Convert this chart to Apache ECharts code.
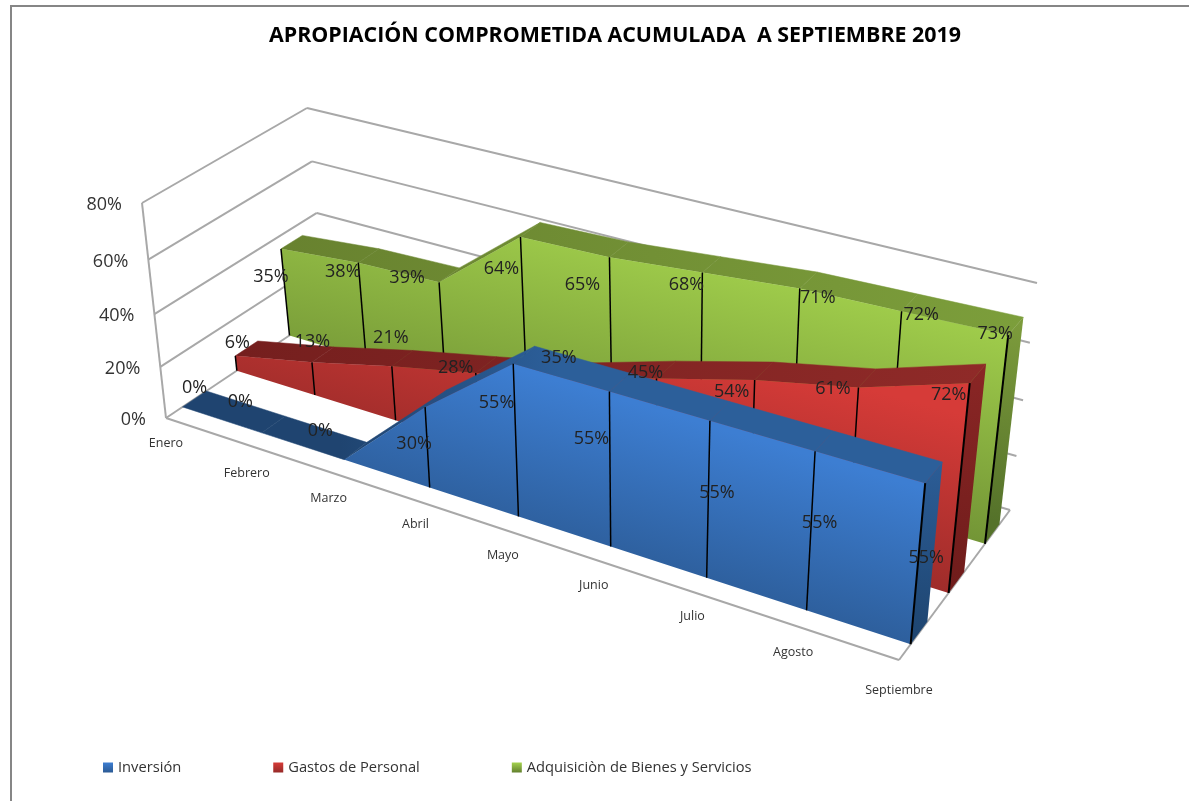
<!DOCTYPE html>
<html>
<head>
<meta charset="utf-8">
<script src="https://cdn.jsdelivr.net/npm/echarts@6/dist/echarts.min.js"></script>
<style>html,body{margin:0;padding:0;background:#fff}#container{width:1189px;height:801px}</style>
</head>
<body>
<div id="container"></div>
<script>
var categories = ['Enero','Febrero','Marzo','Abril','Mayo','Junio','Julio','Agosto','Septiembre'];
var inversion = [0,0,0,30,55,55,55,55,55];
var gastos = [6,13,21,28,35,45,54,61,72];
var adquisicion = [35,38,39,64,65,68,71,72,73];
var yTicks = [0,20,40,60,80];

// label nudges, the labels were moved by hand in the original chart
var inversionNudge = [[12,-19],[-21.5,-31],[-24,-28.5],[-11,36.5],[-16.7,39],[-18,47.5],[7,72.5],[4.5,71.5],[1,75]];
var gastosNudge = [[2,-13],[0.5,-20],[-1,-28],[-20,-5],[-5,-21.5],[-11,-5.3],[-23,12],[-25.5,1],[-21,11.5]];
var adquisicionNudge = [[-10,28],[-15.5,9],[-32,-4],[-19,32],[-27,27.6],[-16,12.5],[18,9],[19.5,3.7],[-13,-1]];
var catNudge = [[0,0],[1,3],[0,1],[1,-2],[-1,-2],[-3,-3],[-1,-4.5],[-1,-2],[0,0]];

var myChart = echarts.init(document.getElementById('container'));

// hidden flat grid, its axes give the scales. the result is then put in perspective
var box = {left:100, top:100, width:800, height:600};
var floorQuad = [[166,418],[899,660],[1010,510],[326,311]];
var roofQuad = [[142,203],[920,419],[1037,283],[307,108]];
var heightBow = 1.07;
var spreadBow = 0.015;

function squareToQuad(p){
	var dx1=p[1][0]-p[2][0], dx2=p[3][0]-p[2][0], sx=p[0][0]-p[1][0]+p[2][0]-p[3][0];
	var dy1=p[1][1]-p[2][1], dy2=p[3][1]-p[2][1], sy=p[0][1]-p[1][1]+p[2][1]-p[3][1];
	var den=dx1*dy2-dx2*dy1;
	var g=(sx*dy2-dx2*sy)/den, h=(dx1*sy-sx*dy1)/den;
	var a=p[1][0]-p[0][0]+g*p[1][0], b=p[3][0]-p[0][0]+h*p[3][0], c=p[0][0];
	var d=p[1][1]-p[0][1]+g*p[1][1], e=p[3][1]-p[0][1]+h*p[3][1], f=p[0][1];
	return function(u,w){
		var k=g*u+h*w+1;
		return [(a*u+b*w+c)/k,(d*u+e*w+f)/k];
	};
}
var floorMap = squareToQuad(floorQuad), roofMap = squareToQuad(roofQuad);

function project(api,cat,val,w){
	var c = api.coord([cat,val]);
	var u = (c[0]-box.left)/box.width, v = (box.top+box.height-c[1])/box.height;
	u = u+spreadBow*u*(1-u);
	var a = floorMap(u,w), b = roofMap(u,w);
	var t = v/(v+(1-v)*heightBow);
	return [a[0]+(b[0]-a[0])*t, a[1]+(b[1]-a[1])*t];
}
// gradient in page pixels, so neighbouring faces of one ribbon share it
function grad(x,y,x2,y2,c1,c2){
	return new echarts.graphic.LinearGradient(x,y,x2,y2,[{offset:0,color:c1},{offset:1,color:c2}],true);
}
function iconGrad(c1,c2){
	return new echarts.graphic.LinearGradient(0,0,0,1,[{offset:0,color:c1},{offset:1,color:c2}]);
}

var ribbons = [
	{name:'Adquisiciòn de Bienes y Servicios', values:adquisicion, nudge:adquisicionNudge, w0:0.755, w1:0.895,
		front:grad(1000,308,927,613,'#a4d24d','#62802e'), top:grad(285,0,1020,0,'#68822f','#7c9e3b'), side:grad(0,320,0,520,'#7d9c3c','#55722a'), icon:iconGrad('#a4d24d','#62802e'), z:3},
	{name:'Gastos de Personal', values:gastos, nudge:gastosNudge, w0:0.42, w1:0.56,
		front:grad(873,390,820,587,'#d63b38','#962a28'), top:grad(240,0,980,0,'#751f1e','#8f2a28'), side:grad(0,365,0,590,'#8a2625','#6f1c1b'), icon:iconGrad('#d63b38','#962a28'), z:4},
	{name:'Inversión', values:inversion, nudge:inversionNudge, w0:0.095, w1:0.235,
		front:grad(520,370,470,540,'#3d7ed2','#2b5a94'), top:grad(340,0,560,0,'#1f4470','#2c5f9a'), side:grad(0,460,0,640,'#2c5d97','#1e4570'), icon:iconGrad('#3d7ed2','#2b5a94'), z:5}
];

function ribbonItem(r){
	return function(params,api){
		var i = params.dataIndex, last = r.values.length-1, kids = [];
		if(i<last){
			kids.push({type:'polygon', z2:1, shape:{points:[
				project(api,i,r.values[i],r.w0), project(api,i+1,r.values[i+1],r.w0),
				project(api,i+1,r.values[i+1],r.w1), project(api,i,r.values[i],r.w1)
			]}, style:{fill:r.top, stroke:r.top, lineWidth:0.5}});
		}
		if(i==last){
			var pts = [];
			for(var n=0;n<=last;n++) pts.push(project(api,n,r.values[n],r.w0));
			pts.push(project(api,last,0,r.w0));
			pts.push(project(api,0,0,r.w0));
			kids.push({type:'polygon', z2:2, shape:{points:pts}, style:{fill:r.front}});
			kids.push({type:'polygon', z2:1, shape:{points:[
				project(api,last,r.values[last],r.w0), project(api,last,r.values[last],r.w1),
				project(api,last,0,r.w1), project(api,last,0,r.w0)
			]}, style:{fill:r.side}});
		}
		if(r.values[i]>0){
			var p0 = project(api,i,0,r.w0), p1 = project(api,i,r.values[i],r.w0);
			kids.push({type:'line', z2:3, shape:{x1:p0[0],y1:p0[1],x2:p1[0],y2:p1[1]}, style:{stroke:'#000',lineWidth:i==last?2:1.5}});
		}
		return {type:'group', children:kids};
	};
}

var wallColor = '#a8a8a8';
function seg(a,b){
	return {type:'line', shape:{x1:a[0],y1:a[1],x2:b[0],y2:b[1]}, style:{stroke:wallColor,lineWidth:2}};
}
function wallItem(params,api){
	var t = yTicks[params.dataIndex], kids = [];
	var lastCat = categories.length-1;
	var a = project(api,0,t,0), b = project(api,0,t,1), c = project(api,lastCat,t,1);
	kids.push(seg(a,b));
	kids.push(seg(b,c));
	if(params.dataIndex==0){
		kids.push(seg(project(api,0,0,0),project(api,0,yTicks[yTicks.length-1],0)));
		kids.push(seg(project(api,0,0,0),project(api,lastCat,0,0)));
		kids.push(seg(project(api,lastCat,0,0),project(api,lastCat,0,1)));
	}
	kids.push({type:'text', x:a[0]-20, y:a[1]+2, style:{text:t+'%', align:'right', verticalAlign:'middle', fontFamily:'Open Sans', fontSize:18, fill:'#333'}});
	return {type:'group', children:kids};
}
function catItem(params,api){
	var i = params.dataIndex;
	var p = project(api,i,0,0);
	return {type:'text', x:p[0]+catNudge[i][0], y:p[1]+25+5*i/8+catNudge[i][1], style:{text:categories[i], align:'center', verticalAlign:'middle', fontFamily:'Open Sans', fontSize:12.5, fill:'#333'}};
}

var labelRows = [];
ribbons.forEach(function(r){
	r.values.forEach(function(v,i){ labelRows.push({r:r,i:i}); });
});
function labelItem(params,api){
	var row = labelRows[params.dataIndex], r = row.r, i = row.i;
	var p = project(api,i,r.values[i],r.w0);
	return {type:'text', x:p[0]+r.nudge[i][0], y:p[1]+r.nudge[i][1], style:{text:r.values[i]+'%', align:'center', verticalAlign:'middle', fontFamily:'Open Sans', fontSize:18, fill:'#222'}};
}

var series = [
	{name:'walls', type:'custom', z:1, silent:true, renderItem:wallItem, data:yTicks.map(function(t){return [0,t];}), clip:false},
	{name:'cats', type:'custom', z:2, silent:true, renderItem:catItem, data:categories.map(function(c,i){return [i,0];}), clip:false}
];
ribbons.forEach(function(r){
	series.push({name:r.name, type:'custom', z:r.z, renderItem:ribbonItem(r), clip:false,
		itemStyle:{color:r.icon},
		data:r.values.map(function(v,i){return [i,v];})});
});
series.push({name:'labels', type:'custom', z:9, silent:true, renderItem:labelItem, clip:false,
	data:labelRows.map(function(l){return [l.i,l.r.values[l.i]];})});

var option = {
	animation:false,
	title:{text:'APROPIACIÓN COMPROMETIDA ACUMULADA  A SEPTIEMBRE 2019', left:610, textAlign:'center', top:20,
		textStyle:{fontFamily:'Open Sans', fontWeight:'bold', fontSize:21.4, color:'#000'}},
	legend:{data:['Inversión','Gastos de Personal','Adquisiciòn de Bienes y Servicios'], left:103, top:760, padding:0, itemWidth:10, itemHeight:10, itemGap:92, icon:'rect',
		textStyle:{fontFamily:'Open Sans', fontSize:14.7, color:'#333', padding:[0,0,0,0]}},
	grid:box,
	xAxis:{type:'category', data:categories, boundaryGap:false, show:false},
	yAxis:{type:'value', min:0, max:80, interval:20, show:false},
	series:series,
	graphic:[{type:'polyline', silent:true, shape:{points:[[11,801],[11,6],[1189,6]]}, style:{stroke:'#868686',lineWidth:2,fill:null}}]
};
myChart.setOption(option);
</script>
</body>
</html>
